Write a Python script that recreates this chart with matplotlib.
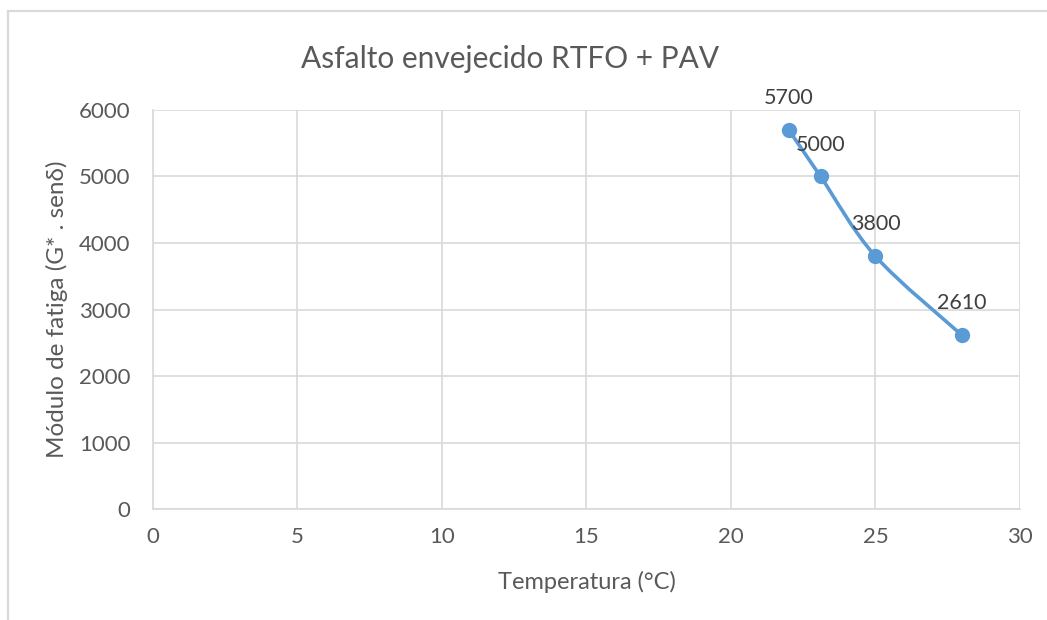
import matplotlib
matplotlib.use("Agg")
import matplotlib.pyplot as plt
from matplotlib.path import Path
from matplotlib.patches import PathPatch, Rectangle

# temperature (°C) vs fatigue modulus
temperatura = [22, 23.1, 25, 28]
modulo = [5700, 5000, 3800, 2610]
etiquetas = ["5700", "5000", "3800", "2610"]

titulo = "Asfalto envejecido RTFO + PAV"
xlabel = "Temperatura (°C)"
ylabel = "Módulo de fatiga (G* . senδ)"

azul = "#5B9BD5"
gris_texto = "#595959"
gris_rejilla = "#D9D9D9"

plt.rcParams["font.family"] = ["Lato", "DejaVu Sans"]

fig = plt.figure(figsize=(10.47, 6.2), dpi=100)
ax = fig.add_axes([0.1461, 0.179, 0.8281, 0.6436])

# chart frame (runs off the right and bottom edges)
fig.patches.append(Rectangle((8 / 1047, -0.1), 1.2, 1.1 - 11 / 620, transform=fig.transFigure,
                             fill=False, edgecolor=gris_rejilla, linewidth=1.6))

# smoothed line (Bezier segments through the points)
pts = list(zip(temperatura, modulo))
n = len(pts)
verts = [pts[0]]
codes = [Path.MOVETO]
for i in range(n - 1):
    p0 = pts[max(i - 1, 0)]
    p1 = pts[i]
    p2 = pts[i + 1]
    p3 = pts[min(i + 2, n - 1)]
    c1 = (p1[0] + (p2[0] - p0[0]) / 6, p1[1] + (p2[1] - p0[1]) / 6)
    c2 = (p2[0] - (p3[0] - p1[0]) / 6, p2[1] - (p3[1] - p1[1]) / 6)
    verts += [c1, c2, p2]
    codes += [Path.CURVE4] * 3
ax.add_patch(PathPatch(Path(verts, codes), facecolor="none", edgecolor=azul,
                       linewidth=2.6, capstyle="round", zorder=3))
ax.plot(temperatura, modulo, linestyle="none", marker="o", markersize=10,
        color=azul, zorder=4)

for x, y, t in zip(temperatura, modulo, etiquetas):
    ax.annotate(t, (x, y), xytext=(0, 23), textcoords="offset points",
                ha="center", va="center", fontsize=15.5, color="#404040")

ax.set_xlim(0, 30)
ax.set_ylim(0, 6000)
ax.set_xticks(range(0, 31, 5))
ax.set_yticks(range(0, 6001, 1000))
ax.grid(True, color=gris_rejilla, linewidth=1.2)
ax.set_axisbelow(True)
for s in ["top", "right"]:
    ax.spines[s].set_visible(False)
for s in ["left", "bottom"]:
    ax.spines[s].set_color(gris_rejilla)
    ax.spines[s].set_linewidth(1.2)
ax.tick_params(axis="y", length=0, labelsize=16, labelcolor=gris_texto, pad=16)
ax.tick_params(axis="x", length=0, labelsize=16, labelcolor=gris_texto, pad=13)

fig.text(510 / 1047, 1 - 59 / 620, titulo, fontsize=21.5, color=gris_texto,
         ha="center", va="center")
ax.set_xlabel(xlabel, fontsize=17, color=gris_texto, labelpad=17)
ax.set_ylabel(ylabel, fontsize=17.5, color=gris_texto, labelpad=8)

fig.savefig("out.png", dpi=100)
